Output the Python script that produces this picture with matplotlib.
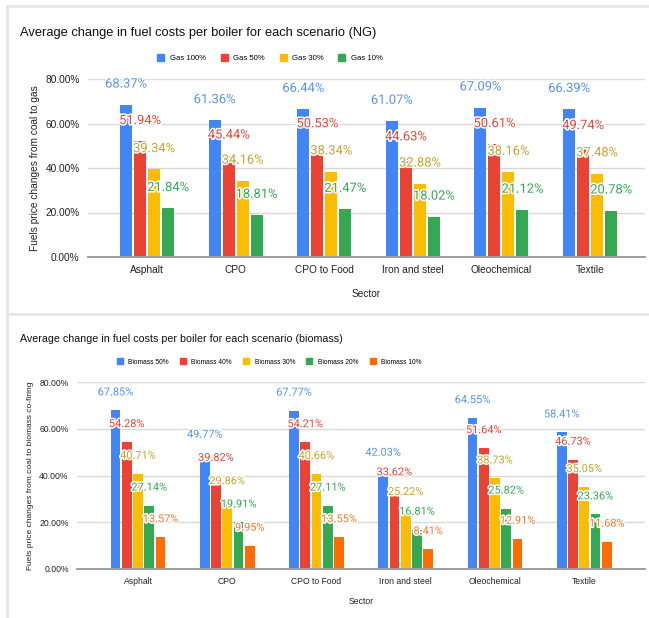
import matplotlib
matplotlib.use("Agg")
import matplotlib.pyplot as plt
import matplotlib.patheffects as pe
from matplotlib.lines import Line2D
from matplotlib.patches import Patch
import numpy as np

sectors = ["Asphalt", "CPO", "CPO to Food", "Iron and steel", "Oleochemical", "Textile"]

gas_names = ["Gas 100%", "Gas 50%", "Gas 30%", "Gas 10%"]
gas_100 = [68.37, 61.36, 66.44, 61.07, 67.09, 66.39]
gas_50 = [51.94, 45.44, 50.53, 44.63, 50.61, 49.74]
gas_30 = [39.34, 34.16, 38.34, 32.88, 38.16, 37.48]
gas_10 = [21.84, 18.81, 21.47, 18.02, 21.12, 20.78]

bio_names = ["Biomass 50%", "Biomass 40%", "Biomass 30%", "Biomass 20%", "Biomass 10%"]
bio_50 = [67.85, 49.77, 67.77, 42.03, 64.55, 58.41]
bio_40 = [54.28, 39.82, 54.21, 33.62, 51.64, 46.73]
bio_30 = [40.71, 29.86, 40.66, 25.22, 38.73, 35.05]
bio_20 = [27.14, 19.91, 27.11, 16.81, 25.82, 23.36]
bio_10 = [13.57, 9.95, 13.55, 8.41, 12.91, 11.68]

bar_colors = ["#4285F4", "#EA4335", "#FBBC04", "#34A853", "#FF6D01"]
text_colors = ["#5b92ee", "#e4473b", "#c9a330", "#3aa65a", "#f57c2c"]

plt.rcParams['font.family'] = ['Liberation Sans', 'DejaVu Sans']

W, H = 649, 618
fig = plt.figure(figsize=(W / 100, H / 100), dpi=100)

# light grey frame lines like the sheet cards
frame_col = "#e6e6e6"
for (x0, y0, x1, y1) in [(7, 6, 648, 6), (7, 6, 7, 618), (7, 314, 648, 314)]:
    fig.add_artist(Line2D([x0 / W, x1 / W], [1 - y0 / H, 1 - y1 / H],
                          color=frame_col, lw=2, transform=fig.transFigure))


def draw_panel(rect, series, step, width, xlim, lab_size, lab_off,
               tick_size, ylabel, ylab_size, ypad, xpad):
    ax = fig.add_axes(rect)
    x = np.arange(len(sectors))
    n = len(series)
    for i, vals in enumerate(series):
        pos = x + (i - (n - 1) / 2) * step
        ax.bar(pos, vals, width=width, color=bar_colors[i], zorder=3)
        for px, v in zip(pos, vals):
            ax.annotate("%.2f%%" % v, (px, v), xytext=(0, lab_off),
                        textcoords="offset points", ha="center", va="center",
                        fontsize=lab_size, color=text_colors[i], family="Roboto",
                        zorder=5, annotation_clip=False,
                        path_effects=[pe.withStroke(linewidth=2.2, foreground="white")])
    ax.set_ylim(0, 80)
    ax.set_xlim(*xlim)
    ax.set_yticks([0, 20, 40, 60, 80])
    ax.set_yticklabels(["%.2f%%" % t for t in [0, 20, 40, 60, 80]])
    ax.set_xticks(x)
    ax.set_xticklabels(sectors)
    ax.tick_params(length=0, labelsize=tick_size, colors="#222222", pad=6)
    ax.grid(axis="y", color="#d9d9d9", lw=1, zorder=0)
    for s in ["top", "right", "left"]:
        ax.spines[s].set_visible(False)
    ax.spines["bottom"].set_color("#9e9e9e")
    ax.spines["bottom"].set_linewidth(1.4)
    ax.spines["bottom"].set_zorder(4)
    ax.set_ylabel(ylabel, fontsize=ylab_size, color="#222222", labelpad=ypad)
    ax.set_xlabel("Sector", fontsize=tick_size, color="#222222", labelpad=xpad)
    return ax


draw_panel([88 / W, 1 - 257 / H, 557 / W, 178 / H],
           [gas_100, gas_50, gas_30, gas_10],
           0.158, 0.135, (-0.666, 5.62), 9.3, 15, 7.3,
           "Fuels price changes from coal to gas", 7.3, 4, 10)

draw_panel([77 / W, 1 - 569 / H, 568 / W, 187 / H],
           [bio_50, bio_40, bio_30, bio_20, bio_10],
           0.126, 0.11, (-0.684, 5.68), 7.9, 13, 6.2,
           "Fuels price changes from coal to biomass co-firing", 6.0, 4, 8)

fig.text(20 / W, 1 - 33 / H, "Average change in fuel costs per boiler for each scenario (NG)",
         fontsize=9.3, va="center", ha="left", color="#111111")
fig.text(20 / W, 1 - 339 / H, "Average change in fuel costs per boiler for each scenario (biomass)",
         fontsize=7.7, va="center", ha="left", color="#111111")

h1 = [Patch(color=bar_colors[i], label=gas_names[i]) for i in range(4)]
fig.legend(handles=h1, loc="center", bbox_to_anchor=(270 / W, 1 - 58 / H), ncol=4,
           frameon=False, fontsize=5.6, handlelength=0.9, handleheight=0.9,
           handletextpad=0.7, columnspacing=1.9)
h2 = [Patch(color=bar_colors[i], label=bio_names[i]) for i in range(5)]
fig.legend(handles=h2, loc="center", bbox_to_anchor=(269 / W, 1 - 362 / H), ncol=5,
           frameon=False, fontsize=4.8, handlelength=0.9, handleheight=0.9,
           handletextpad=0.8, columnspacing=1.7)

fig.savefig("out.png", dpi=100)
